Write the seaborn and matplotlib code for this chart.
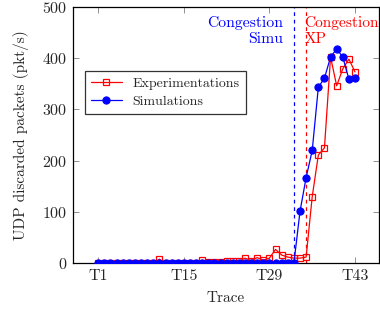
import matplotlib
matplotlib.use("Agg")
import matplotlib.pyplot as plt
import seaborn as sns
import pandas as pd

# donnees (une valeur par trace T1..T43)
traces = list(range(1, 44))
tick_pos = [1, 15, 29, 43]
tick_labels = ["T1", "T15", "T29", "T43"]

experimentations = [0, 0, 0, 0, 0, 0, 0, 0, 0, 0,
                    8, 0, 0, 0, 0, 0, 0, 6, 2, 2,
                    3, 4, 5, 4, 10, 5, 11, 6, 10, 27,
                    16, 12, 10, 10, 12, 130, 211, 225, 402, 346,
                    379, 398, 373]
simulations = [0] * 33 + [101, 167, 220, 343, 361, 402, 418, 402, 359, 362]

congestion_simu = 33
congestion_xp = 35

df = pd.DataFrame({"trace": traces, "exp": experimentations, "sim": simulations})

sns.set_style("ticks")
plt.rcParams["font.family"] = ["cmr10", "DejaVu Serif"]
plt.rcParams["axes.formatter.use_mathtext"] = True

fig = plt.figure(figsize=(3.8, 3.09), dpi=100)
ax = fig.add_axes([0.191, 0.148, 0.806, 0.830])

sns.lineplot(data=df, x="trace", y="exp", ax=ax, color="red", lw=0.9,
             marker="s", markersize=4.6, markerfacecolor="none",
             markeredgecolor="red", markeredgewidth=0.9,
             label="Experimentations", zorder=3)
sns.lineplot(data=df, x="trace", y="sim", ax=ax, color="blue", lw=0.9,
             marker="o", markersize=5.2, markeredgecolor="blue",
             label="Simulations", zorder=4)

# lignes de congestion
ax.axvline(congestion_simu, color="blue", ls=(0, (3, 3)), lw=0.9)
ax.axvline(congestion_xp, color="red", ls=(0, (3, 3)), lw=0.9)
ax.text(31.2, 482, "Congestion\nSimu", color="blue", ha="right", va="top",
        fontsize=11.3, linespacing=1.2)
ax.text(34.75, 482, "Congestion\nXP", color="red", ha="left", va="top",
        fontsize=11.1, linespacing=1.2, clip_on=False)

ax.set_xlim(-3.2, 46.9)
ax.set_ylim(0, 500)
ax.set_xticks(tick_pos)
ax.set_xticklabels(tick_labels)
ax.set_yticks([0, 100, 200, 300, 400, 500])
ax.tick_params(direction="in", length=4, width=0.6, color="0.5",
               top=True, right=True, labelsize=11.5, pad=4)
for s in ax.spines.values():
    s.set_linewidth(0.9)
    s.set_color("black")

ax.set_xlabel("Trace", fontsize=11, labelpad=6)
ax.set_ylabel("UDP discarded packets (pkt/s)", fontsize=11, labelpad=9)

leg = ax.legend(loc="upper left", bbox_to_anchor=(0.04, 0.749), fontsize=10,
                frameon=True, fancybox=False, edgecolor="black",
                handlelength=2.2, borderpad=0.45, labelspacing=0.35,
                borderaxespad=0)
leg.get_frame().set_linewidth(0.9)

plt.savefig("out.png", dpi=100)
